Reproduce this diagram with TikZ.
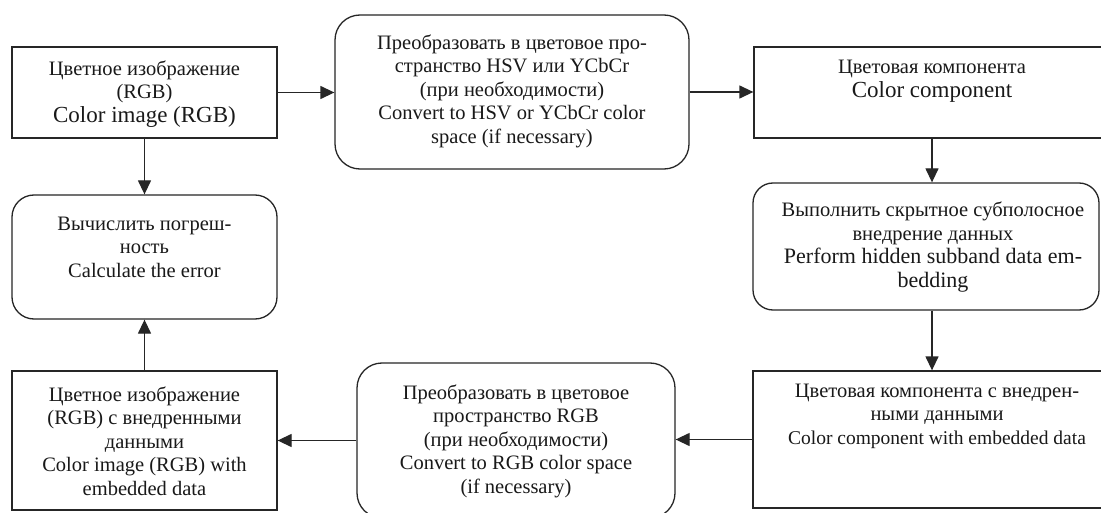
\documentclass[tikz,border=0pt]{standalone}
\usepackage{fontspec}
\setmainfont{Liberation Serif}
\usetikzlibrary{arrows.meta,calc}
\begin{document}
\begin{tikzpicture}[x=1pt,y=-1pt,
  box/.style={draw=black!85,line width=1.3pt,minimum width=#1,inner sep=0pt},
  rbox/.style={draw=black!85,line width=1.3pt,rounded corners=22pt,inner sep=0pt},
  txt/.style={align=center,inner sep=0pt,text=black!90,font=\fontsize{20.5}{23.5}\selectfont},
  arr/.style={draw=black!85,line width=1.3pt,-{Triangle[length=14pt,width=13pt]}}]
\useasboundingbox (0,0) rectangle (1101,513);
\clip (0,0) rectangle (1101,513);
\fill[white] (0,0) rectangle (1101,513);
% boxes
\node[box=265pt,minimum height=91pt] (A) at (144.5,92.5) {};
\node[rbox,minimum width=354pt,minimum height=154pt,rounded corners=25pt] (B) at (512,92) {};
\node[box=356pt,minimum height=91pt] (C) at (932,92.5) {};
\node[rbox,minimum width=265pt,minimum height=124pt] (D) at (144.5,257) {};
\node[rbox,minimum width=346pt,minimum height=127pt,rounded corners=20pt] (E) at (926,246.5) {};
\node[box=357pt,minimum height=137pt] (F) at (931.5,439.5) {};
\node[rbox,minimum width=318pt,minimum height=155pt,rounded corners=25pt] (G) at (516,440.5) {};
\node[box=265pt,minimum height=139pt] (H) at (144.5,440.5) {};
% texts
\node[txt] (tA) at (144.5,94) {Цветное изображение\\(RGB)\\{\fontsize{23}{23.5}\selectfont Color image (RGB)}};
\node[txt] (tB) at (512,91) {Преобразовать в цветовое про-\\странство HSV или YCbCr\\(при необходимости)\\Convert to HSV or YCbCr color\\space (if necessary)};
\node[txt] (tC) at (932,81) {Цветовая компонента\\{\fontsize{23}{23.5}\selectfont Color component}};
\node[txt] (tD) at (144.5,247) {Вычислить погреш-\\ность\\Calculate the error};
\node[txt] (tE) at (933,247) {Выполнить скрытное субполосное\\внедрение данных\\{\fontsize{22}{23.5}\selectfont Perform hidden subband data em-}\\{\fontsize{22}{23.5}\selectfont bedding}};
\node[txt] (tF) at (937,416) {Цветовая компонента с внедрен-\\ными данными\\{\fontsize{19.5}{23}\selectfont Color component with embedded data}};
\node[txt] (tG) at (516,441) {Преобразовать в цветовое\\пространство RGB\\(при необходимости)\\Convert to RGB color space\\(if necessary)};
\node[txt] (tH) at (144.5,441) {Цветное изображение\\(RGB) с внедренными\\данными\\Color image (RGB) with\\embedded data};
% connectors
\draw[arr] (A.east) -- (A.east -| B.west);
\draw[arr] (B.east) -- (B.east -| C.west);
\draw[arr] (C.south) -- (C.south |- E.north);
\draw[arr] (C.south |- E.south) -- (C.south |- F.north);
\draw[arr] (F.west) -- (F.west -| G.east);
\draw[arr] (G.west) -- (G.west -| H.east);
\draw[arr] (A.south) -- (D.north);
\draw[arr] (H.north) -- (D.south);
\end{tikzpicture}
\end{document}
